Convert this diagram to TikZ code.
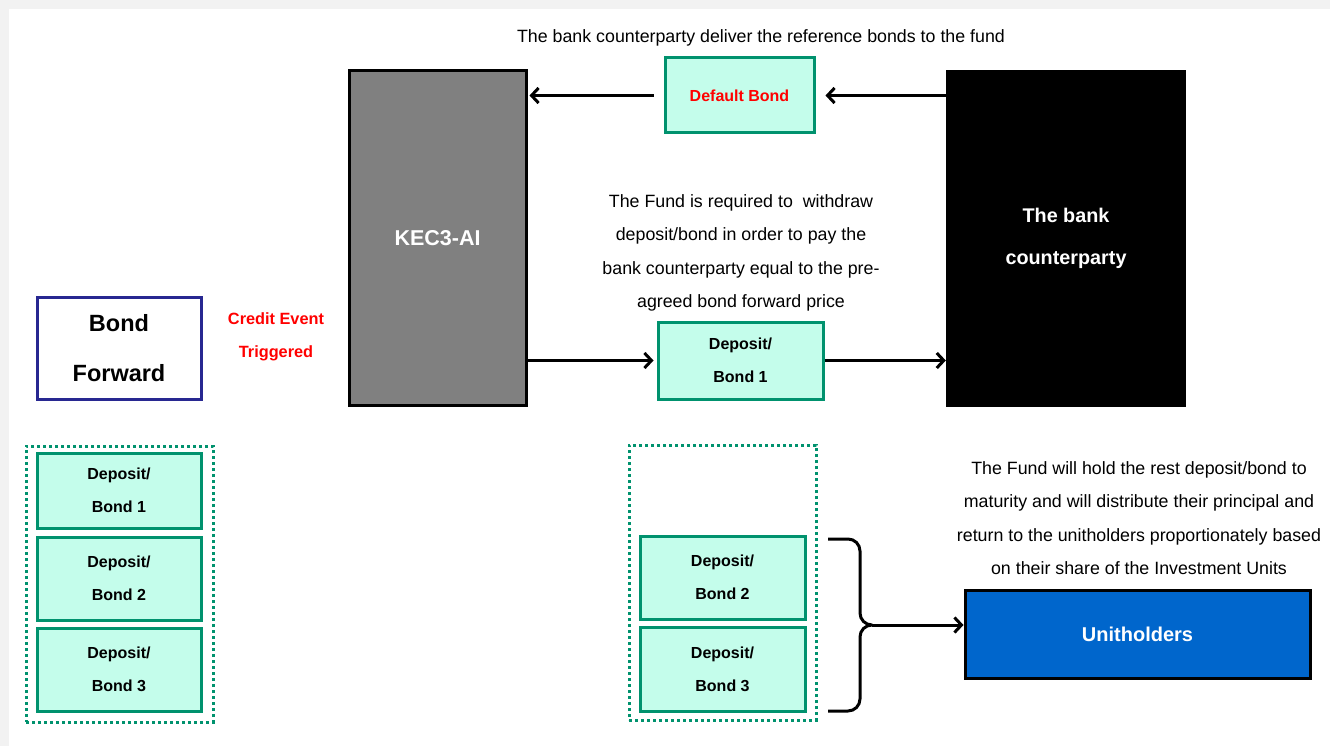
\documentclass[tikz,border=0pt]{standalone}
\usepackage{fontspec}
\setmainfont{Liberation Sans}
\usetikzlibrary{arrows.meta}
\definecolor{mint}{RGB}{196,253,235}
\definecolor{dgreen}{RGB}{0,146,110}
\definecolor{navy}{RGB}{40,40,145}
\definecolor{ublue}{RGB}{0,102,204}
\definecolor{edge}{RGB}{242,242,242}
\begin{document}
\begin{tikzpicture}[x=1pt,y=-1pt,
  dep/.style={draw=dgreen,fill=mint,line width=3pt,align=center,inner sep=0pt,
    font=\bfseries\fontsize{16}{33}\selectfont},
  grp/.style={draw=dgreen,line width=3pt,dash pattern=on 3pt off 3pt},
  note/.style={align=center,inner sep=0pt,font=\fontsize{17.8}{33.3}\selectfont},
  arr/.style={line width=3pt,-{Straight Barb[length=7pt,width=15pt,line width=3pt]}},
  brc/.style={line width=3pt,line join=round}]
\useasboundingbox (0,0) rectangle (1330,746);
\fill[edge] (0,0) rectangle (1330,746);
\fill[white] (9,9) rectangle (1330,746);

% main boxes
\node[draw=black,fill=black!50,line width=3pt,minimum width=177,minimum height=334,
  text=white,font=\bfseries\fontsize{21.5}{24}\selectfont] (kec) at (437.5,238) {KEC3-AI};
\node[fill=black,minimum width=240,minimum height=337,text=white,align=center,
  font=\bfseries\fontsize{19.8}{42}\selectfont] (bank) at (1066,238.5) {The bank\\counterparty};
\node[dep,minimum width=149,minimum height=75,text=red] (dflt) at (739.5,95.5) {Default Bond};
\node[dep,minimum width=165,minimum height=77] (dm1) at (740.5,360.5) {Deposit/\\Bond 1};

\node[draw=navy,fill=white,line width=3pt,minimum width=164,minimum height=102,align=center,
  font=\bfseries\fontsize{23.5}{50}\selectfont] (bf) at (119,348) {Bond\\Forward};
\node[align=center,text=red,inner sep=0pt,font=\bfseries\fontsize{16.3}{33}\selectfont] (ce) at (276,336.5) {Credit Event\\Triggered};

% left group
\node[grp,minimum width=187,minimum height=276] (lg) at (119.5,584) {};
\node[dep,minimum width=164,minimum height=75] (l1) at (119,490.5) {Deposit/\\Bond 1};
\node[dep,minimum width=164,minimum height=83] (l2) at (119,578.5) {Deposit/\\Bond 2};
\node[dep,minimum width=164,minimum height=83] (l3) at (119,669.5) {Deposit/\\Bond 3};

% middle group
\node[grp,minimum width=187,minimum height=275] (mg) at (722.5,582.5) {};
\node[dep,minimum width=165,minimum height=83] (m2) at (722.5,577.5) {Deposit/\\Bond 2};
\node[dep,minimum width=165,minimum height=84] (m3) at (722.5,669) {Deposit/\\Bond 3};

\node[draw=black,fill=ublue,line width=3pt,minimum width=345,minimum height=88,text=white,
  font=\bfseries\fontsize{20}{24}\selectfont] (unit) at (1137.5,634) {Unitholders};

% texts
\node[note] (t1) at (761,38) {The bank counterparty deliver the reference bonds to the fund};
\node[note] (t2) at (741,253) {The Fund is required to\ \ withdraw\\deposit/bond in order to pay the\\bank counterparty equal to the pre-\\agreed bond forward price};
\node[note] (t3) at (1139,518) {The Fund will hold the rest deposit/bond to\\maturity and will distribute their principal and\\return to the unitholders proportionately based\\on their share of the Investment Units};

% arrows
\draw[arr] (dflt.east -| bank.west) -- ([xshift=10pt]dflt.east);
\draw[arr] ([xshift=-10pt]dflt.west) -- ([xshift=2pt]dflt.west -| kec.east);
\draw[arr] (dm1.west -| kec.east) -- ([xshift=-3pt]dm1.west);
\draw[arr] (dm1.east) -- (dm1.east -| bank.west);

% brace
\coordinate (btop) at (828,539);
\coordinate (bbot) at (828,711);
\coordinate (tip) at (872,625);
\draw[brc] (btop) -- (848,539) to[out=0,in=90] (860,551) -- (860,613) to[out=-90,in=180] (tip)
  to[out=180,in=90] (860,637) -- (860,699) to[out=-90,in=0] (848,711) -- (bbot);
\draw[arr] (tip) -- (tip -| unit.west);
\end{tikzpicture}
\end{document}
